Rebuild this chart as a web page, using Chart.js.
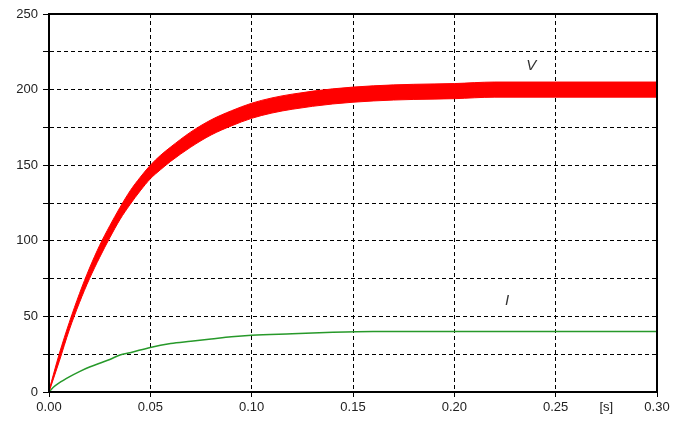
<!DOCTYPE html>
<html>
<head>
<meta charset="utf-8">
<script src="https://cdn.jsdelivr.net/npm/chart.js@4.4.0/dist/chart.umd.min.js"></script>
<style>
  html, body { margin: 0; padding: 0; background: #fff; }
  #wrap { width: 685px; height: 422px; }
</style>
</head>
<body>
<div id="wrap"><canvas id="chart" width="685" height="422"></canvas></div>
<script>
// time [s] for the V band
const tV = [0, 0.005, 0.01, 0.015, 0.02, 0.025, 0.03, 0.035, 0.04, 0.045, 0.05, 0.055, 0.06, 0.07, 0.08, 0.09, 0.10, 0.11, 0.12, 0.14, 0.16, 0.18, 0.20, 0.22, 0.25, 0.30];
// upper and lower edge of the noisy V trace
const vHigh = [1, 25, 46, 65, 82, 97, 110, 122, 133, 142, 150, 156.5, 162, 172, 180, 186, 191, 194.5, 197, 200.5, 202.5, 203.5, 204, 205, 205, 205];
const vLow  = [0, 20, 41, 59, 75, 89, 102, 114, 124, 133, 141, 147, 152.5, 162, 170, 176, 181, 184.5, 187, 190.5, 192.5, 193.5, 194, 195, 195, 195];

// time [s] and current I
const tI = [0, 0.002, 0.005, 0.01, 0.015, 0.02, 0.025, 0.03, 0.035, 0.04, 0.05, 0.06, 0.07, 0.08, 0.09, 0.10, 0.12, 0.14, 0.16, 0.20, 0.25, 0.30];
const iVals = [0, 3, 6, 10, 13.5, 16.5, 19, 21.5, 24.5, 26, 29.5, 32, 33.5, 35, 36.5, 37.5, 38.5, 39.5, 40, 40, 40, 40];

// curve names and where they sit (data units)
const curveLabels = ['V', 'I'];
const labelAt = [[0.238, 216], [0.226, 60]];

const toPts = (xs, ys) => xs.map((x, i) => ({ x: x, y: ys[i] }));

const frame = {
  id: 'frame',
  afterDatasetsDraw(chart) {
    const { ctx, chartArea: a, scales } = chart;
    ctx.save();
    ctx.strokeStyle = '#000';
    ctx.lineWidth = 2;
    ctx.strokeRect(a.left, a.top, a.right - a.left, a.bottom - a.top);
    ctx.fillStyle = '#333';
    ctx.font = 'italic 15px "Liberation Sans", Arial, sans-serif';
    ctx.textAlign = 'center';
    ctx.textBaseline = 'middle';
    curveLabels.forEach((txt, i) => {
      ctx.fillText(txt, scales.x.getPixelForValue(labelAt[i][0]), scales.y.getPixelForValue(labelAt[i][1]));
    });
    ctx.restore();
  }
};

new Chart(document.getElementById('chart'), {
  type: 'line',
  data: {
    datasets: [{
      data: toPts(tV, vHigh),
      borderColor: '#ff0000',
      borderWidth: 1,
      pointRadius: 0,
      cubicInterpolationMode: 'monotone',
      fill: false
    }, {
      data: toPts(tV, vLow),
      borderColor: '#ff0000',
      backgroundColor: '#ff0000',
      borderWidth: 1,
      pointRadius: 0,
      cubicInterpolationMode: 'monotone',
      fill: '-1'
    }, {
      data: toPts(tI, iVals),
      borderColor: '#27992a',
      borderWidth: 1.5,
      pointRadius: 0,
      cubicInterpolationMode: 'monotone',
      fill: false
    }]
  },
  options: {
    responsive: false,
    animation: false,
    layout: { padding: { top: 14, right: 28, left: 0, bottom: 0 } },
    plugins: { legend: { display: false }, tooltip: { enabled: false } },
    scales: {
      x: {
        type: 'linear',
        min: 0,
        max: 0.3,
        afterFit(s) { s.height = 30; },
        border: { display: true, color: '#000', width: 2, dash: [4, 3] },
        grid: {
          color: (c) => (Math.round(c.tick.value * 1000) % 50 === 0 ? '#000' : 'rgba(0,0,0,0)'),
          lineWidth: 1,
          tickLength: 5
        },
        ticks: {
          stepSize: 0.025,
          autoSkip: false,
          maxRotation: 0,
          padding: 3,
          color: '#222',
          font: { family: '"Liberation Sans", Arial, sans-serif', size: 13 },
          callback(v) {
            const m = Math.round(v * 1000);
            if (m === 275) return '[s]';
            return m % 50 === 0 ? (m / 1000).toFixed(2) : '';
          }
        }
      },
      y: {
        min: 0,
        max: 250,
        afterFit(s) { s.width = 49; },
        border: { display: true, color: '#000', width: 2, dash: [4, 3] },
        grid: { color: '#000', lineWidth: 1, tickLength: 6 },
        ticks: {
          stepSize: 25,
          padding: 5,
          color: '#222',
          font: { family: '"Liberation Sans", Arial, sans-serif', size: 13 },
          callback(v) { return v % 50 === 0 ? v : ''; }
        }
      }
    }
  },
  plugins: [frame]
});
</script>
</body>
</html>
